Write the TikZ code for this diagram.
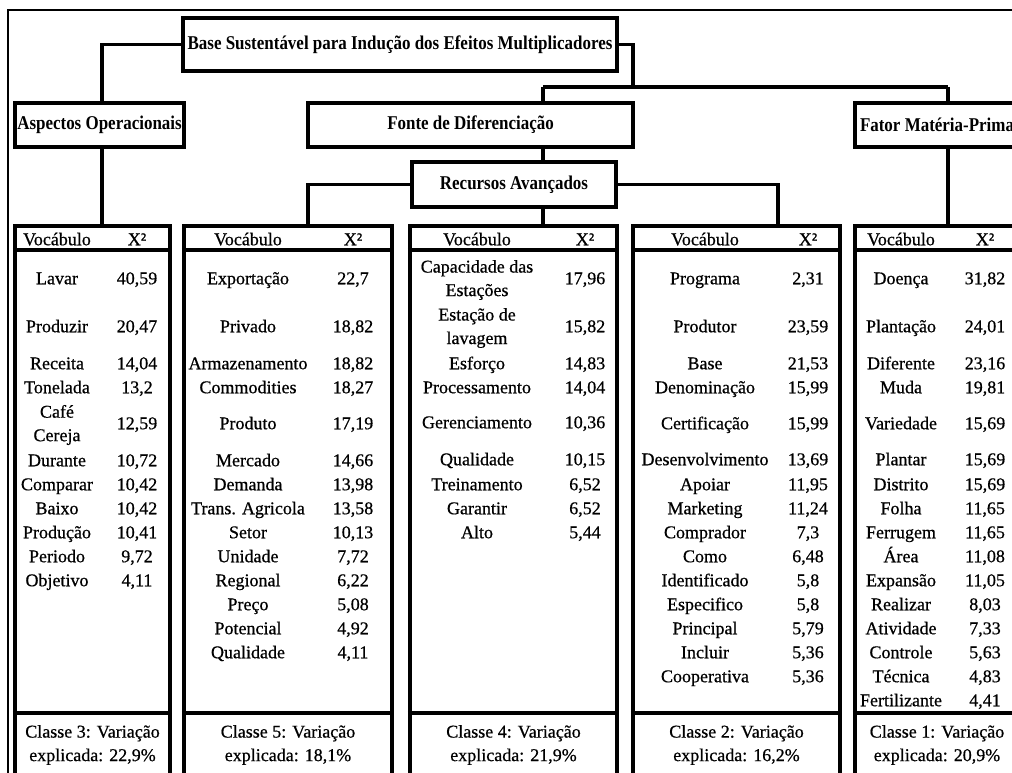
\documentclass[tikz,border=0pt]{standalone}
\usepackage{fontspec}
\setmainfont[FakeBold=0.6]{Liberation Serif}
\newfontfamily\hdfont[FakeStretch=0.87]{Liberation Serif}
\usepackage{tikz}

\tikzset{
  hbox/.style={draw, line width=3.5pt, inner sep=0pt, font=\fontsize{19.5}{22}\hdfont\bfseries},
  tbl/.style={draw, line width=4.5pt, inner sep=0pt},
  link/.style={line width=3.5pt},
  tabrule/.style={line width=4.5pt},
  pair/.style={inner sep=0pt, align=center, font=\fontsize{18}{23.5}\selectfont},
  cell/.style={pair, text height=12.5pt, text depth=4pt},
}

\begin{document}
\begin{tikzpicture}[x=1pt, y=-1pt]
  \useasboundingbox (0,0) rectangle (1012,773);
  \clip (0,0) rectangle (1012,773);
  \fill[white] (0,0) rectangle (1012,773);
  \draw[line width=2pt] (8,10) rectangle (1040,800);
  % header boxes
  \node[hbox, minimum width=434, minimum height=53] (top) at (400,44.5) {Base Sustentável para Indução dos Efeitos Multiplicadores};
  \node[hbox, minimum width=169, minimum height=44] (asp) at (99.5,125) {Aspectos Operacionais};
  \node[hbox, minimum width=325, minimum height=44] (fonte) at (470.5,125) {Fonte de Diferenciação};
  \node[hbox, minimum width=164, minimum height=44] (fator) at (937,125) {Fator Matéria-Prima};
  \node[hbox, minimum width=204, minimum height=45] (rec) at (514,184.5) {Recursos Avançados};
  % tables
  \node[tbl, minimum width=155, minimum height=574] (t1) at (92.5,513) {};
  \node[tbl, minimum width=208, minimum height=574] (t2) at (288,513) {};
  \node[tbl, minimum width=207, minimum height=574] (t3) at (513.5,513) {};
  \node[tbl, minimum width=207, minimum height=574] (t4) at (736.5,513) {};
  \node[tbl, minimum width=164, minimum height=574] (t5) at (937,513) {};
  \draw[tabrule] ([yshift=-26pt]t1.north west) -- ([yshift=-26pt]t1.north east);
  \draw[tabrule] ([yshift=-26pt]t2.north west) -- ([yshift=-26pt]t2.north east);
  \draw[tabrule] ([yshift=-26pt]t3.north west) -- ([yshift=-26pt]t3.north east);
  \draw[tabrule] ([yshift=-26pt]t4.north west) -- ([yshift=-26pt]t4.north east);
  \draw[tabrule] ([yshift=-26pt]t5.north west) -- ([yshift=-26pt]t5.north east);
  \draw[link] ([yshift=-489pt]t1.north west) -- ([yshift=-489pt]t1.north east);
  \draw[link] ([yshift=-489pt]t2.north west) -- ([yshift=-489pt]t2.north east);
  \draw[link] ([yshift=-489pt]t3.north west) -- ([yshift=-489pt]t3.north east);
  \draw[link] ([yshift=-489pt]t4.north west) -- ([yshift=-489pt]t4.north east);
  \draw[link] ([yshift=-489pt]t5.north west) -- ([yshift=-489pt]t5.north east);
  % connectors
  \coordinate (lft) at (102,0);
  \coordinate (rgt) at (633,87);
  \coordinate (spine) at (543,87);
  \coordinate (fork) at (948,87);
  \coordinate (recl) at (308,0);
  \coordinate (recr) at (778,0);
  \draw[link] (top.west) -| (lft |- asp.north);
  \draw[link] (lft |- asp.south) -- (lft |- t1.north);
  \draw[link] (top.east) -| (rgt);
  \draw[link] (spine) -- (fork);
  \draw[link] (spine) -- (spine |- fonte.north);
  \draw[link] (fork) -- (fork |- fator.north);
  \draw[link] (spine |- fonte.south) -- (spine |- rec.north);
  \draw[link] (spine |- rec.south) -- (spine |- t3.north);
  \draw[link] (rec.west) -| (recl |- t2.north);
  \draw[link] (rec.east) -| (recr |- t4.north);
  \draw[link] (fork |- fator.south) -- (fork |- t5.north);
  % table 1
  \node[cell] (t1h1) at (57,241) {Vocábulo};
  \node[cell] (t1h2) at (137,241) {X²};
  \node[cell] (t1w1) at (57,280) {Lavar};
  \node[cell] (t1x1) at (137,280) {40,59};
  \node[cell] (t1w2) at (57,328) {Produzir};
  \node[cell] (t1x2) at (137,328) {20,47};
  \node[cell] (t1w3) at (57,365) {Receita};
  \node[cell] (t1x3) at (137,365) {14,04};
  \node[cell] (t1w4) at (57,389) {Tonelada};
  \node[cell] (t1x4) at (137,389) {13,2};
  \node[pair] (t1w5) at (57,425) {Café\\Cereja};
  \node[cell] (t1x5) at (137,425) {12,59};
  \node[cell] (t1w6) at (57,462) {Durante};
  \node[cell] (t1x6) at (137,462) {10,72};
  \node[cell] (t1w7) at (57,486) {Comparar};
  \node[cell] (t1x7) at (137,486) {10,42};
  \node[cell] (t1w8) at (57,510) {Baixo};
  \node[cell] (t1x8) at (137,510) {10,42};
  \node[cell] (t1w9) at (57,534) {Produção};
  \node[cell] (t1x9) at (137,534) {10,41};
  \node[cell] (t1w10) at (57,558) {Periodo};
  \node[cell] (t1x10) at (137,558) {9,72};
  \node[cell] (t1w11) at (57,582) {Objetivo};
  \node[cell] (t1x11) at (137,582) {4,11};
  \node[pair] (t1f) at (92.5,745) {Classe 3: Variação\\explicada: 22,9\%};
  % table 2
  \node[cell] (t2h1) at (248,241) {Vocábulo};
  \node[cell] (t2h2) at (353,241) {X²};
  \node[cell] (t2w1) at (248,280) {Exportação};
  \node[cell] (t2x1) at (353,280) {22,7};
  \node[cell] (t2w2) at (248,328) {Privado};
  \node[cell] (t2x2) at (353,328) {18,82};
  \node[cell] (t2w3) at (248,365) {Armazenamento};
  \node[cell] (t2x3) at (353,365) {18,82};
  \node[cell] (t2w4) at (248,389) {Commodities};
  \node[cell] (t2x4) at (353,389) {18,27};
  \node[cell] (t2w5) at (248,425) {Produto};
  \node[cell] (t2x5) at (353,425) {17,19};
  \node[cell] (t2w6) at (248,462) {Mercado};
  \node[cell] (t2x6) at (353,462) {14,66};
  \node[cell] (t2w7) at (248,486) {Demanda};
  \node[cell] (t2x7) at (353,486) {13,98};
  \node[cell] (t2w8) at (248,510) {Trans. Agricola};
  \node[cell] (t2x8) at (353,510) {13,58};
  \node[cell] (t2w9) at (248,534) {Setor};
  \node[cell] (t2x9) at (353,534) {10,13};
  \node[cell] (t2w10) at (248,558) {Unidade};
  \node[cell] (t2x10) at (353,558) {7,72};
  \node[cell] (t2w11) at (248,582) {Regional};
  \node[cell] (t2x11) at (353,582) {6,22};
  \node[cell] (t2w12) at (248,606) {Preço};
  \node[cell] (t2x12) at (353,606) {5,08};
  \node[cell] (t2w13) at (248,630) {Potencial};
  \node[cell] (t2x13) at (353,630) {4,92};
  \node[cell] (t2w14) at (248,654) {Qualidade};
  \node[cell] (t2x14) at (353,654) {4,11};
  \node[pair] (t2f) at (288,745) {Classe 5: Variação\\explicada: 18,1\%};
  % table 3
  \node[cell] (t3h1) at (477,241) {Vocábulo};
  \node[cell] (t3h2) at (585,241) {X²};
  \node[pair] (t3w1) at (477,280) {Capacidade das\\Estações};
  \node[cell] (t3x1) at (585,280) {17,96};
  \node[pair] (t3w2) at (477,328) {Estação de\\lavagem};
  \node[cell] (t3x2) at (585,328) {15,82};
  \node[cell] (t3w3) at (477,365) {Esforço};
  \node[cell] (t3x3) at (585,365) {14,83};
  \node[cell] (t3w4) at (477,389) {Processamento};
  \node[cell] (t3x4) at (585,389) {14,04};
  \node[cell] (t3w5) at (477,424) {Gerenciamento};
  \node[cell] (t3x5) at (585,424) {10,36};
  \node[cell] (t3w6) at (477,461) {Qualidade};
  \node[cell] (t3x6) at (585,461) {10,15};
  \node[cell] (t3w7) at (477,486) {Treinamento};
  \node[cell] (t3x7) at (585,486) {6,52};
  \node[cell] (t3w8) at (477,510) {Garantir};
  \node[cell] (t3x8) at (585,510) {6,52};
  \node[cell] (t3w9) at (477,534) {Alto};
  \node[cell] (t3x9) at (585,534) {5,44};
  \node[pair] (t3f) at (513.5,745) {Classe 4: Variação\\explicada: 21,9\%};
  % table 4
  \node[cell] (t4h1) at (705,241) {Vocábulo};
  \node[cell] (t4h2) at (808,241) {X²};
  \node[cell] (t4w1) at (705,280) {Programa};
  \node[cell] (t4x1) at (808,280) {2,31};
  \node[cell] (t4w2) at (705,328) {Produtor};
  \node[cell] (t4x2) at (808,328) {23,59};
  \node[cell] (t4w3) at (705,365) {Base};
  \node[cell] (t4x3) at (808,365) {21,53};
  \node[cell] (t4w4) at (705,389) {Denominação};
  \node[cell] (t4x4) at (808,389) {15,99};
  \node[cell] (t4w5) at (705,425) {Certificação};
  \node[cell] (t4x5) at (808,425) {15,99};
  \node[cell] (t4w6) at (705,461) {Desenvolvimento};
  \node[cell] (t4x6) at (808,461) {13,69};
  \node[cell] (t4w7) at (705,486) {Apoiar};
  \node[cell] (t4x7) at (808,486) {11,95};
  \node[cell] (t4w8) at (705,510) {Marketing};
  \node[cell] (t4x8) at (808,510) {11,24};
  \node[cell] (t4w9) at (705,534) {Comprador};
  \node[cell] (t4x9) at (808,534) {7,3};
  \node[cell] (t4w10) at (705,558) {Como};
  \node[cell] (t4x10) at (808,558) {6,48};
  \node[cell] (t4w11) at (705,582) {Identificado};
  \node[cell] (t4x11) at (808,582) {5,8};
  \node[cell] (t4w12) at (705,606) {Especifico};
  \node[cell] (t4x12) at (808,606) {5,8};
  \node[cell] (t4w13) at (705,630) {Principal};
  \node[cell] (t4x13) at (808,630) {5,79};
  \node[cell] (t4w14) at (705,654) {Incluir};
  \node[cell] (t4x14) at (808,654) {5,36};
  \node[cell] (t4w15) at (705,678) {Cooperativa};
  \node[cell] (t4x15) at (808,678) {5,36};
  \node[pair] (t4f) at (736.5,745) {Classe 2: Variação\\explicada: 16,2\%};
  % table 5
  \node[cell] (t5h1) at (901,241) {Vocábulo};
  \node[cell] (t5h2) at (985,241) {X²};
  \node[cell] (t5w1) at (901,280) {Doença};
  \node[cell] (t5x1) at (985,280) {31,82};
  \node[cell] (t5w2) at (901,328) {Plantação};
  \node[cell] (t5x2) at (985,328) {24,01};
  \node[cell] (t5w3) at (901,365) {Diferente};
  \node[cell] (t5x3) at (985,365) {23,16};
  \node[cell] (t5w4) at (901,389) {Muda};
  \node[cell] (t5x4) at (985,389) {19,81};
  \node[cell] (t5w5) at (901,425) {Variedade};
  \node[cell] (t5x5) at (985,425) {15,69};
  \node[cell] (t5w6) at (901,461) {Plantar};
  \node[cell] (t5x6) at (985,461) {15,69};
  \node[cell] (t5w7) at (901,486) {Distrito};
  \node[cell] (t5x7) at (985,486) {15,69};
  \node[cell] (t5w8) at (901,510) {Folha};
  \node[cell] (t5x8) at (985,510) {11,65};
  \node[cell] (t5w9) at (901,534) {Ferrugem};
  \node[cell] (t5x9) at (985,534) {11,65};
  \node[cell] (t5w10) at (901,558) {Área};
  \node[cell] (t5x10) at (985,558) {11,08};
  \node[cell] (t5w11) at (901,582) {Expansão};
  \node[cell] (t5x11) at (985,582) {11,05};
  \node[cell] (t5w12) at (901,606) {Realizar};
  \node[cell] (t5x12) at (985,606) {8,03};
  \node[cell] (t5w13) at (901,630) {Atividade};
  \node[cell] (t5x13) at (985,630) {7,33};
  \node[cell] (t5w14) at (901,654) {Controle};
  \node[cell] (t5x14) at (985,654) {5,63};
  \node[cell] (t5w15) at (901,678) {Técnica};
  \node[cell] (t5x15) at (985,678) {4,83};
  \node[cell] (t5w16) at (901,702) {Fertilizante};
  \node[cell] (t5x16) at (985,702) {4,41};
  \node[pair] (t5f) at (937,745) {Classe 1: Variação\\explicada: 20,9\%};
\end{tikzpicture}
\end{document}
